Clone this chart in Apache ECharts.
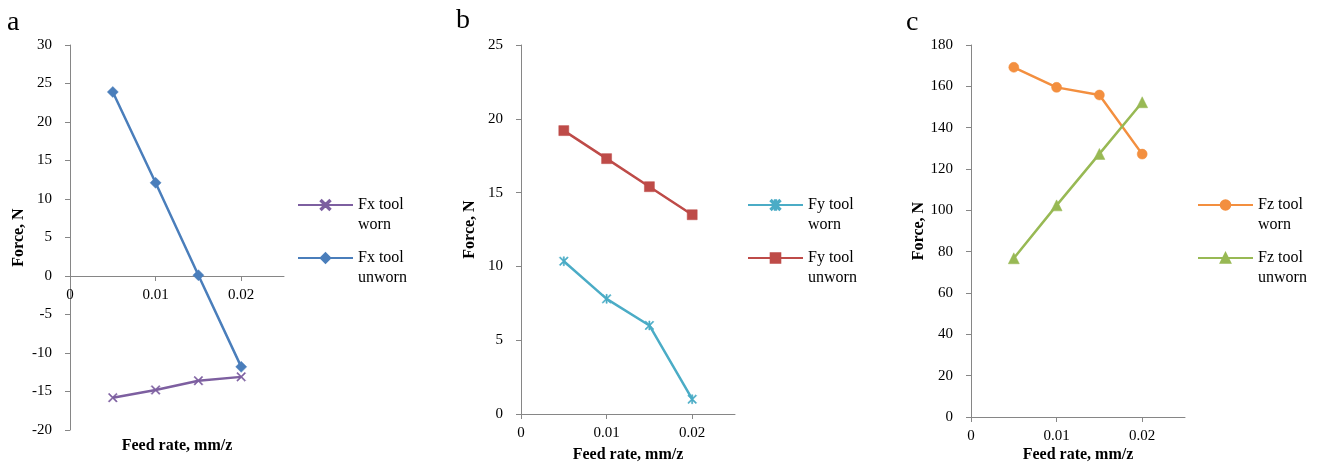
<!DOCTYPE html>
<html><head><meta charset="utf-8">
<script src="https://cdn.jsdelivr.net/npm/echarts@6/dist/echarts.min.js"></script>
<style>html,body{margin:0;padding:0;background:#fff}#c{width:1319px;height:463px}</style>
</head><body><div id="c"></div>
<script>
// ---- data ----
const feedRates = [0.005, 0.01, 0.015, 0.02];
const xTickValues = [0, 0.01, 0.02];
const fxWorn = [-15.8, -14.8, -13.6, -13.1];
const fxUnworn = [23.9, 12.1, 0.1, -11.8];
const fyWorn = [10.35, 7.8, 6.0, 1.0];
const fyUnworn = [19.2, 17.3, 15.4, 13.5];
const fzWorn = [169.2, 159.5, 155.8, 127.2];
const fzUnworn = [76.8, 102.4, 127.3, 152.3];
const panelLabels = ['a', 'b', 'c'];
const legendNames = [
  ['Fx tool\nworn', 'Fx tool\nunworn'],
  ['Fy tool\nworn', 'Fy tool\nunworn'],
  ['Fz tool\nworn', 'Fz tool\nunworn']
];
const yRanges = [[-20, 30, 5], [0, 25, 5], [0, 180, 20]];
const xTitle = 'Feed rate, mm/z';
const yTitle = 'Force, N';

// ---- style ----
const FONT = '"Liberation Serif", "Times New Roman", serif';
const AXIS = '#868686';
const X_SYM = 'path://M0,1L1,0L5,4L9,0L10,1L6,5L10,9L9,10L5,6L1,10L0,9L4,5Z';
const AST_SYM = 'path://M0,1L1,0L5,4L9,0L10,1L6,5L10,9L9,10L5,6L1,10L0,9L4,5Z M4.3,0L5.7,0L5.7,10L4.3,10Z';

const grids = [
  {left: 70, top: 45, width: 214, height: 385},
  {left: 521, top: 45, width: 214, height: 369},
  {left: 971, top: 45, width: 214, height: 372}
];
// x axis of panel a sits at y = 0 (154 px above the grid bottom)
const xAxisOffsets = [-154, 0, 0];
const legendPos = [{left: 297, top: 175}, {left: 747, top: 175}, {left: 1197, top: 175}];
const xTitlePos = [[177, 446], [628, 455], [1078, 455]];
const panelPos = [[7, 9], [456, 7], [906, 9]];

const seriesDefs = [
  [{d: fxWorn, color: '#7D5FA0', symbol: X_SYM, size: 9},
   {d: fxUnworn, color: '#4A7EBB', symbol: 'diamond', size: 11}],
  [{d: fyWorn, color: '#4BACC6', symbol: AST_SYM, size: 9},
   {d: fyUnworn, color: '#BE4B48', symbol: 'rect', size: 10}],
  [{d: fzWorn, color: '#F38F3F', symbol: 'circle', size: 10},
   {d: fzUnworn, color: '#98B954', symbol: 'triangle', size: 11}]
];

const option = {
  animation: false,
  backgroundColor: '#fff',
  textStyle: {fontFamily: FONT},
  grid: grids,
  xAxis: grids.map((g, i) => ({
    type: 'value', gridIndex: i, min: 0, max: 0.025, interval: 0.01,
    position: 'bottom', offset: xAxisOffsets[i],
    axisLine: {show: true, onZero: false, lineStyle: {color: AXIS, width: 1}},
    axisTick: {show: true, length: 5, customValues: xTickValues, lineStyle: {color: AXIS}},
    axisLabel: {customValues: xTickValues, margin: 12, color: '#000', fontFamily: FONT, fontSize: 15},
    splitLine: {show: false}
  })),
  yAxis: grids.map((g, i) => ({
    type: 'value', gridIndex: i, min: yRanges[i][0], max: yRanges[i][1], interval: yRanges[i][2],
    name: yTitle, nameLocation: 'middle', nameGap: 43,
    nameTextStyle: {fontFamily: FONT, fontSize: 16, fontWeight: 'bold', color: '#000'},
    axisLine: {show: true, onZero: false, lineStyle: {color: AXIS, width: 1}},
    axisTick: {show: true, length: 5, lineStyle: {color: AXIS}},
    axisLabel: {margin: 18, color: '#000', fontFamily: FONT, fontSize: 15},
    splitLine: {show: false}
  })),
  legend: legendNames.map((names, i) => ({
    orient: 'vertical', left: legendPos[i].left, top: legendPos[i].top, padding: 0,
    itemWidth: 55, itemHeight: 12, itemGap: -7,
    data: names,
    formatter: n => '\n' + n,
    textStyle: {fontFamily: FONT, fontSize: 16, color: '#000', lineHeight: 20}
  })),
  series: [],
  graphic: []
};

seriesDefs.forEach((pair, i) => {
  pair.forEach((s, j) => {
    option.series.push({
      type: 'line', name: legendNames[i][j], xAxisIndex: i, yAxisIndex: i,
      data: feedRates.map((x, k) => [x, s.d[k]]),
      symbol: s.symbol, symbolSize: s.size, showSymbol: true,
      lineStyle: {color: s.color, width: 2.5},
      itemStyle: {color: s.color, borderColor: s.color, borderWidth: 0.5},
      emphasis: {disabled: true}
    });
  });
  option.graphic.push({
    type: 'text', left: panelPos[i][0], top: panelPos[i][1],
    style: {text: panelLabels[i], font: '28px ' + FONT, fill: '#000'}
  });
  option.graphic.push({
    type: 'text', x: xTitlePos[i][0], y: xTitlePos[i][1],
    style: {text: xTitle, font: 'bold 16px ' + FONT, fill: '#000', align: 'center', verticalAlign: 'middle'}
  });
});

const chart = echarts.init(document.getElementById('c'), null, {renderer: 'canvas'});
chart.setOption(option);
</script>
</body></html>
